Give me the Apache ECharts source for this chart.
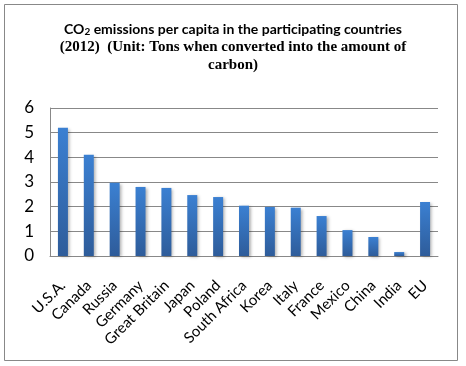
<!DOCTYPE html>
<html>
<head>
<meta charset="utf-8">
<script src="https://cdn.jsdelivr.net/npm/echarts@6/dist/echarts.min.js"></script>
<style>
  html, body { margin: 0; padding: 0; background: #fff; }
  #main { width: 466px; height: 366px; }
</style>
</head>
<body>
<div id="main"></div>
<script>
// countries and tons of carbon per capita, 2012
let countries = ['U.S.A.', 'Canada', 'Russia', 'Germany', 'Great Britain', 'Japan', 'Poland',
  'South Africa', 'Korea', 'Italy', 'France', 'Mexico', 'China', 'India', 'EU'];
let emissions = [5.2, 4.1, 2.97, 2.8, 2.76, 2.47, 2.39, 2.04, 1.99, 1.96, 1.62, 1.05, 0.77, 0.16, 2.19];
let yTicks = [0, 1, 2, 3, 4, 5, 6];

let chart = echarts.init(document.getElementById('main'));
let option = {
  backgroundColor: '#fff',
  animation: false,
  graphic: [{
    type: 'rect',
    shape: { x: 4.5, y: 4.5, width: 453, height: 356 },
    style: { fill: 'none', stroke: '#888', lineWidth: 1 }
  }],
  title: {
    left: 'center',
    top: 15,
    text: '{a|CO}{sub|2}{a| emissions per capita in the participating countries}\n' +
      '{b|(2012)  (Unit: Tons when converted into the amount of}\n{b|carbon)}',
    textStyle: {
      rich: {
        a: { fontFamily: 'Lato', fontWeight: 'bold', fontSize: 14, color: '#000', lineHeight: 18 },
        sub: { fontFamily: 'Lato', fontWeight: 'bold', fontSize: 10, color: '#000', padding: [6, 0, 0, 0], lineHeight: 18 },
        b: { fontFamily: 'Liberation Serif', fontWeight: 'bold', fontSize: 15, color: '#000', lineHeight: 18 }
      }
    }
  },
  grid: { left: 50, top: 108, width: 388, height: 148, containLabel: false },
  xAxis: {
    type: 'category',
    data: countries,
    axisLine: { lineStyle: { color: '#888' } },
    axisTick: { show: false },
    axisLabel: {
      interval: 0, rotate: 45, margin: 27,
      fontFamily: 'Lato', fontSize: 15, color: '#000'
    }
  },
  yAxis: {
    type: 'value',
    min: yTicks[0],
    max: yTicks[yTicks.length - 1],
    interval: 1,
    axisLine: { show: true, lineStyle: { color: '#888' } },
    axisTick: { show: false },
    splitLine: { lineStyle: { color: '#888', width: 1 } },
    axisLabel: { margin: 16, fontFamily: 'Lato', fontSize: 17, color: '#000' }
  },
  series: [{
    type: 'bar',
    data: emissions,
    barWidth: 10,
    itemStyle: {
      color: new echarts.graphic.LinearGradient(0, 0, 0, 1, [
        { offset: 0, color: '#3b80d2' },
        { offset: 1, color: '#2e5c9a' }
      ]),
      shadowColor: 'rgba(0,0,0,0.3)',
      shadowBlur: 3,
      shadowOffsetX: 2,
      shadowOffsetY: 1
    }
  }]
};
chart.setOption(option);
</script>
</body>
</html>
